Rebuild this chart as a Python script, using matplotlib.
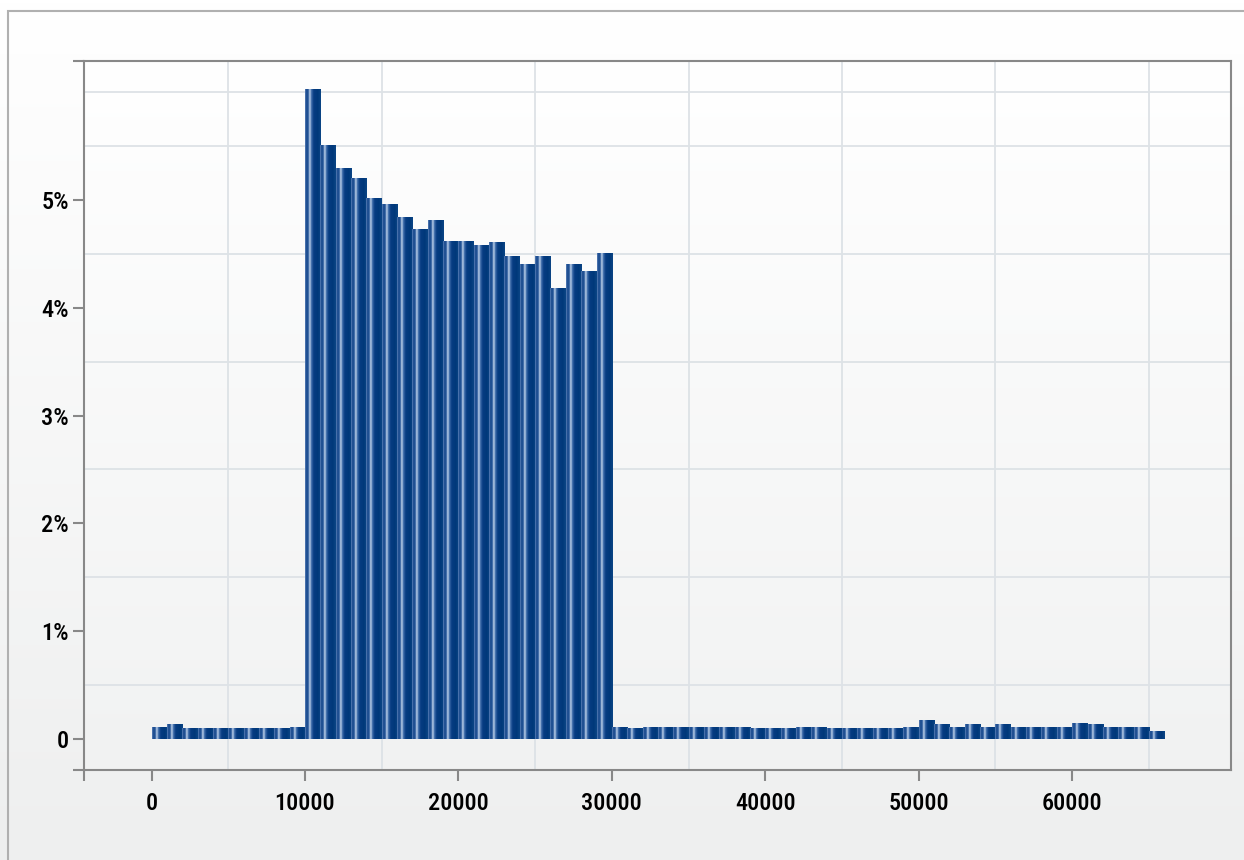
import os
import numpy as np
import matplotlib
matplotlib.use("Agg")
import matplotlib.pyplot as plt
from matplotlib import font_manager as fm
from matplotlib.colors import LinearSegmentedColormap
from matplotlib.patches import Rectangle

# histogram of values in 1000-wide bins, share of total in %
bin_width = 1000
bin_left = np.arange(0, 66000, bin_width)
share_pct = [
    0.111, 0.130, 0.102, 0.093, 0.093, 0.093, 0.093, 0.093, 0.093, 0.111,
    6.03, 5.51, 5.29, 5.20, 5.02, 4.96, 4.84, 4.73, 4.81, 4.62,
    4.62, 4.58, 4.61, 4.48, 4.40, 4.48, 4.18, 4.40, 4.34, 4.51,
    0.111, 0.093, 0.111, 0.111, 0.111, 0.111, 0.111, 0.111, 0.111, 0.093,
    0.093, 0.093, 0.111, 0.111, 0.093, 0.093, 0.093, 0.093, 0.093, 0.111,
    0.176, 0.130, 0.111, 0.130, 0.111, 0.130, 0.111, 0.111, 0.111, 0.111,
    0.148, 0.130, 0.111, 0.111, 0.111, 0.065,
]
x_ticks = [0, 10000, 20000, 30000, 40000, 50000, 60000]
x_labels = ["0", "10000", "20000", "30000", "40000", "50000", "60000"]
y_ticks = [0, 1, 2, 3, 4, 5]
y_labels = ["0", "1%", "2%", "3%", "4%", "5%"]

X_MIN, X_MAX = -4400, 70350
Y_MIN, Y_MAX = -0.29, 6.29


def pick_font():
    # look for a narrow face, the original uses a condensed display font
    prefs = ["NotoSans-ExtraCondensedMedium", "NotoSans-ExtraCondensedSemiBold",
             "NotoSans-ExtraCondensedBold", "NotoSans-CondensedMedium",
             "RobotoCondensed-Medium", "RobotoCondensed-Bold",
             "LiberationSansNarrow-Bold", "DejaVuSansCondensed-Bold"]
    files = fm.findSystemFonts()
    for p in prefs:
        for f in files:
            if os.path.basename(f).startswith(p + "."):
                return fm.FontProperties(fname=f)
    return fm.FontProperties(family="DejaVu Sans", weight="bold")


font = pick_font()
font.set_size(17.5)

fig = plt.figure(figsize=(12.44, 8.6), dpi=100)

# figure background: white fading to light grey
bg = fig.add_axes([0, 0, 1, 1], zorder=-10)
bg.imshow(np.linspace(0, 1, 256).reshape(-1, 1), aspect="auto", extent=[0, 1, 0, 1],
          cmap=LinearSegmentedColormap.from_list("bg", ["#ffffff", "#eeefef"]))
bg.set_axis_off()
fig.patches.append(Rectangle((8 / 1244, -0.1), 1.2, 1.1 - 11 / 860, transform=fig.transFigure,
                             fill=False, edgecolor="#b0b0b0", linewidth=1.5))

ax = fig.add_axes([84 / 1244, 1 - 770 / 860, (1231 - 84) / 1244, (770 - 61) / 860])
ax.set_facecolor("none")
ax.imshow(np.linspace(0, 1, 256).reshape(-1, 1), aspect="auto", extent=[0, 1, 0, 1],
          transform=ax.transAxes, zorder=0,
          cmap=LinearSegmentedColormap.from_list("axbg", ["#ffffff", "#f1f2f2"]))

# bars, then a cylinder-like shading painted into each one
bars = ax.bar(bin_left, share_pct, width=bin_width, align="edge", color="#003f80",
              linewidth=0, zorder=2)
bar_cmap = LinearSegmentedColormap.from_list("bar", [
    (0.0, "#5a80b8"), (0.1, "#14468a"), (0.2, "#2a5a9c"), (0.3, "#c6d8ee"),
    (0.4, "#3f6caa"), (0.55, "#073c82"), (0.8, "#00387a"), (1.0, "#0b4585")])
grad = np.linspace(0, 1, 64).reshape(1, -1)
for b in bars:
    x0 = b.get_x()
    ax.imshow(grad, aspect="auto", cmap=bar_cmap, interpolation="bilinear",
              extent=[x0, x0 + b.get_width(), 0, b.get_height()], zorder=3)

ax.set_xlim(X_MIN, X_MAX)
ax.set_ylim(Y_MIN, Y_MAX)

# grid every 5000 and every 0.5 %
ax.set_xticks(np.arange(0, 70000, 5000), minor=True)
ax.set_yticks(np.arange(0, 6.5, 0.5), minor=True)
ax.grid(which="minor", color="#dde2e6", linewidth=1.3, zorder=1)
ax.grid(which="major", visible=False)
ax.set_axisbelow(True)

ax.set_xticks([X_MIN] + x_ticks)
ax.set_xticklabels([""] + x_labels, fontproperties=font)
ax.set_yticks([Y_MIN] + y_ticks + [Y_MAX])
ax.set_yticklabels([""] + y_labels + [""], fontproperties=font)
ax.tick_params(which="major", length=8, width=1.5, color="#888888", pad=8, axis="x")
ax.tick_params(which="major", length=8, width=1.5, color="#888888", pad=3, axis="y")
ax.tick_params(which="minor", length=0)

for s in ax.spines.values():
    s.set_color("#888888")
    s.set_linewidth(1.5)

fig.savefig("out.png", dpi=100)
